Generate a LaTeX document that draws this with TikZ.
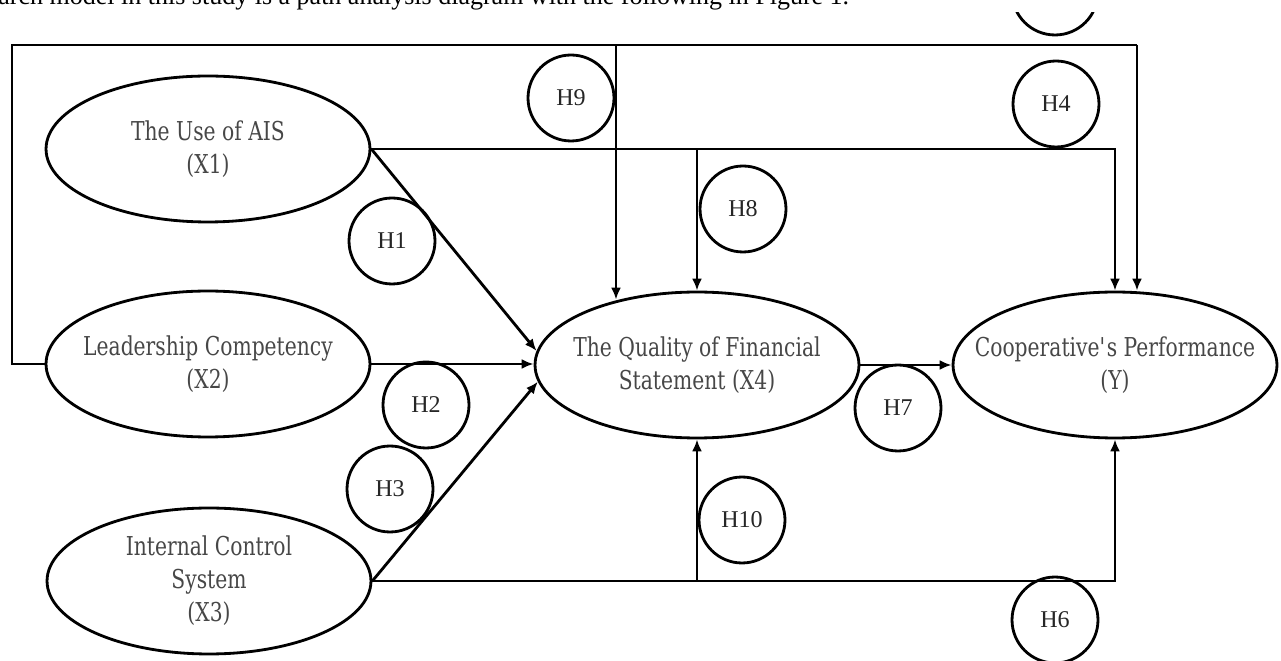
\documentclass[tikz,border=0pt]{standalone}
\usepackage{fontspec}
\setmainfont{DejaVu Serif}[FakeStretch=0.78]
\newfontfamily\timesfont{Liberation Serif}
\usepackage{tikz}
\usetikzlibrary{shapes.geometric, arrows.meta}

\definecolor{textgrey}{HTML}{474747}

\tikzset{
	var/.style = {draw, ellipse, minimum width = 6.48cm, minimum height = 2.92cm, inner xsep = -1cm, inner ysep = 0pt, align = center, text = textgrey, font = \fontsize{14.8}{18.8}\selectfont},
	hyp/.style = {draw, circle, minimum size = 1.72cm, inner sep = 0pt, text = black!85, font = \timesfont\fontsize{13.7}{16}\selectfont},
}

\begin{document}
\begin{tikzpicture}[x = 0.02cm, y = -0.02cm, line width = 1.6pt]
			\useasboundingbox (0,0) rectangle (1281,661);

			\node [anchor = base west, inner sep = 0pt, font = \timesfont\fontsize{14.8}{17}\selectfont] (caption) at (-3,5) {arch model in this study is a path analysis diagram with the following in Figure 1.};

			\begin{scope}
				\node [var] (X1) at (208,149) {The Use of AIS\\(X1)};
				\node [var] (X2) at (208,364) {Leadership Competency\\(X2)};
				\node [var] (X3) at (209,581) {Internal Control\\System\\(X3)};
				\node [var] (X4) at (697,365) {The Quality of Financial\\Statement (X4)};
				\node [var] (Y) at (1115,365) {Cooperative\textquotesingle s Performance\\(Y)};
			\end{scope}

			\begin{scope}
				\node [hyp] (H1) at (392,241) {H1};
				\node [hyp] (H2) at (426,405) {H2};
				\node [hyp] (H3) at (390,489) {H3};
				\node [hyp] (H4) at (1056,104) {H4};
				\node [hyp] (H6) at (1055,620) {H6};
				\node [hyp] (H7) at (898,408) {H7};
				\node [hyp] (H8) at (743,209) {H8};
				\node [hyp] (H9) at (571,98) {H9};
				\node [hyp] (H10) at (742,520) {H10};
			\end{scope}

			\begin{scope}
				\clip (0,13) rectangle (1281,661);
				\node [hyp] (H5) at (1055,-8) {};
			\end{scope}

			\coordinate (loopL) at (12,45);
			\coordinate (loopM) at (616,45);
			\coordinate (loopR) at (1137,45);

			\draw (X2.west) -| (loopL) -- (loopR);

			\begin{scope}[-{Latex[length = 0.24cm, width = 0.2cm]}]
				\draw (loopM) -- (loopM |- X4.140);
				\draw (loopR) -- (loopR |- Y.north);
				\draw (X1.east) -| (Y.north);
				\draw (X1.east -| X4.north) -- (X4.north);
				\draw (X1.east) -- (X4.175);
				\draw (X2.east) -- (X2.east -| X4.west);
				\draw (X3.east) -- (X4.186);
				\draw (X3.east) -| (Y.south);
				\draw (X3.east -| X4.south) -- (X4.south);
				\draw (X4.east) -- (X4.east -| Y.west);
			\end{scope}
		\end{tikzpicture}
\end{document}
